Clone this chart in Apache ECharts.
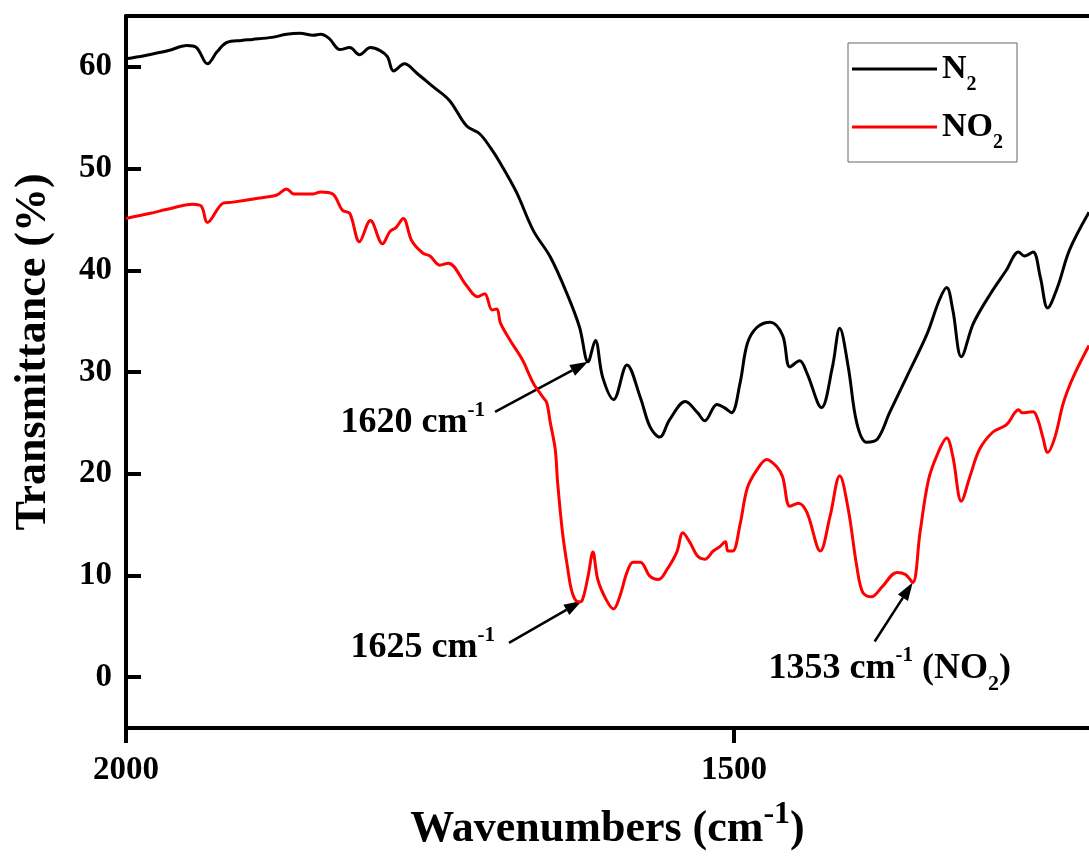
<!DOCTYPE html>
<html>
<head>
<meta charset="utf-8">
<script src="https://cdn.jsdelivr.net/npm/echarts@6/dist/echarts.min.js"></script>
<style>
  html, body { margin: 0; padding: 0; background: #ffffff; }
  #chart { width: 1089px; height: 859px; }
</style>
</head>
<body>
<div id="chart"></div>
<script>
// FTIR spectra, transmittance (%) against wavenumber (cm-1)
const wavenumbersN2 = [2000, 1985, 1965, 1950, 1942, 1933, 1925, 1917, 1905, 1896, 1880, 1868, 1857, 1846, 1840, 1833, 1824, 1816, 1808, 1799, 1791, 1785, 1780, 1771, 1761, 1748, 1734, 1720, 1709, 1700, 1692, 1679, 1665, 1651, 1637, 1627, 1620, 1614, 1608, 1599, 1588, 1577, 1569, 1561, 1553, 1540, 1530, 1524, 1514, 1508, 1502, 1495, 1489, 1481, 1470, 1460, 1454, 1446, 1440, 1428, 1419, 1413, 1406, 1399, 1391, 1382, 1372, 1358, 1341, 1331, 1325, 1320, 1313, 1303, 1289, 1276, 1266, 1261, 1254, 1248, 1242, 1234, 1224, 1208];
const transmittanceN2 = [60.8, 61.1, 61.6, 62.1, 61.9, 60.3, 61.5, 62.4, 62.6, 62.7, 62.9, 63.2, 63.3, 63.1, 63.2, 62.8, 61.7, 61.9, 61.2, 61.9, 61.6, 61.0, 59.6, 60.3, 59.4, 58.1, 56.7, 54.2, 53.4, 52.0, 50.5, 47.7, 43.9, 41.3, 37.6, 34.4, 31.0, 33.1, 29.5, 27.3, 30.7, 27.5, 24.6, 23.6, 25.3, 27.1, 26.0, 25.2, 26.8, 26.5, 26.0, 28.9, 32.8, 34.4, 34.9, 33.6, 30.5, 31.1, 29.9, 26.5, 30.5, 34.3, 30.5, 25.0, 23.1, 23.4, 26.0, 29.5, 33.8, 37.1, 38.3, 36.1, 31.5, 34.8, 37.7, 40.0, 41.8, 41.4, 41.8, 39.3, 36.3, 38.3, 42.0, 45.7];

const wavenumbersNO2 = [2000, 1980, 1966, 1945, 1938, 1933, 1920, 1912, 1890, 1876, 1868, 1862, 1846, 1840, 1830, 1822, 1816, 1808, 1799, 1789, 1783, 1778, 1772, 1765, 1756, 1750, 1742, 1735, 1720, 1711, 1705, 1699, 1695, 1692, 1684, 1674, 1665, 1657, 1654, 1651, 1647, 1645, 1641, 1637, 1633, 1628, 1625, 1620, 1616, 1612, 1605, 1599, 1594, 1588, 1583, 1577, 1569, 1562, 1555, 1547, 1542, 1536, 1530, 1524, 1517, 1512, 1507, 1505, 1501, 1495, 1489, 1481, 1473, 1465, 1460, 1454, 1447, 1440, 1429, 1421, 1413, 1406, 1399, 1394, 1387, 1378, 1366, 1359, 1353, 1347, 1340, 1332, 1325, 1320, 1313, 1306, 1298, 1287, 1276, 1269, 1266, 1263, 1254, 1250, 1246, 1242, 1236, 1229, 1221, 1208];
const transmittanceNO2 = [45.1, 45.6, 46.0, 46.5, 46.3, 44.7, 46.6, 46.7, 47.1, 47.4, 48.0, 47.5, 47.5, 47.7, 47.5, 45.9, 45.6, 42.8, 44.9, 42.6, 43.8, 44.2, 45.1, 42.9, 41.7, 41.4, 40.5, 40.7, 38.5, 37.4, 37.7, 36.1, 36.2, 34.8, 33.1, 31.2, 28.9, 27.5, 27.0, 25.0, 22.4, 19.1, 14.2, 10.9, 8.3, 7.4, 7.5, 9.9, 12.3, 9.6, 7.6, 6.7, 7.9, 10.3, 11.3, 11.3, 9.9, 9.6, 10.6, 12.3, 14.2, 13.2, 11.9, 11.6, 12.4, 12.8, 13.3, 12.4, 12.4, 15.0, 18.6, 20.4, 21.4, 20.7, 19.7, 16.8, 17.1, 16.2, 12.4, 15.8, 19.8, 16.5, 10.9, 8.3, 7.9, 8.9, 10.3, 10.1, 9.3, 14.2, 19.4, 22.1, 23.5, 21.7, 17.3, 19.7, 22.4, 24.1, 24.8, 26.0, 26.3, 26.0, 26.1, 25.3, 23.6, 22.1, 23.6, 27.0, 29.5, 32.6];

const seriesNames = ['N2', 'NO2'];
const seriesColors = ['#000000', '#ff0000'];
const yTickValues = [0, 10, 20, 30, 40, 50, 60];
const xTickValues = [2000, 1500];

// Marked bands: wavenumber, which spectrum, label text
const bandWavenumbers = [1620, 1625, 1353];
const bandSeries = [0, 1, 1];
const bandLabels = ['{n|1620 cm}{sup|-1}', '{n|1625 cm}{sup|-1}', '{n|1353 cm}{sup|-1}{n| (NO}{sub|2}{n|)}'];

const FONT = '"Liberation Serif", "Times New Roman", serif';

function pairs(xs, ys) {
  return xs.map((x, i) => [x, ys[i]]);
}
const seriesData = [pairs(wavenumbersN2, transmittanceN2), pairs(wavenumbersNO2, transmittanceNO2)];

const chart = echarts.init(document.getElementById('chart'), null, { renderer: 'canvas' });

const option = {
  animation: false,
  backgroundColor: '#ffffff',
  grid: { left: 126, right: 0, top: 16, bottom: 131, containLabel: false, outerBoundsMode: 'none' },
  legend: {
    data: seriesNames,
    orient: 'vertical',
    left: 848,
    top: 43,
    padding: [0, 14, 9, 4],
    itemGap: 6,
    itemWidth: 85,
    itemHeight: 3,
    icon: 'rect',
    borderColor: '#666666',
    borderWidth: 1,
    formatter: function (name) {
      return name === 'N2' ? '{m|N}{s|2}' : '{m|NO}{s|2}';
    },
    textStyle: {
      rich: {
        m: { fontFamily: FONT, fontWeight: 'bold', fontSize: 34, lineHeight: 40, color: '#000' },
        // subscript: top padding pushes the glyph down by half its size
        s: { fontFamily: FONT, fontWeight: 'bold', fontSize: 20, lineHeight: 10, padding: [32, 0, 0, 0], color: '#000' }
      }
    }
  },
  xAxis: [
    {
      type: 'value',
      inverse: true,
      min: 1208,
      max: 2000,
      position: 'bottom',
      name: '{t|Wavenumbers (cm}{sup|-1}{t|)}',
      nameLocation: 'middle',
      nameGap: 77,
      nameTextStyle: {
        rich: {
          t: { fontFamily: FONT, fontWeight: 'bold', fontSize: 44, lineHeight: 50, color: '#000' },
          sup: { fontFamily: FONT, fontWeight: 'bold', fontSize: 32, lineHeight: 10, padding: [0, 0, 30, 0], color: '#000' }
        }
      },
      axisLine: { show: true, onZero: false, lineStyle: { color: '#000', width: 4 } },
      axisTick: { show: true, inside: false, length: 15, customValues: xTickValues, lineStyle: { color: '#000', width: 4 } },
      axisLabel: {
        customValues: xTickValues,
        formatter: function (v) { return String(v); },
        fontFamily: FONT, fontWeight: 'bold', fontSize: 33, color: '#000', margin: 26
      },
      splitLine: { show: false }
    },
    {
      type: 'value',
      inverse: true,
      min: 1208,
      max: 2000,
      position: 'top',
      axisLine: { show: true, onZero: false, lineStyle: { color: '#000', width: 4 } },
      axisTick: { show: false },
      axisLabel: { show: false },
      splitLine: { show: false }
    }
  ],
  yAxis: {
    type: 'value',
    min: -5,
    max: 65,
    position: 'left',
    axisLine: { show: true, onZero: false, lineStyle: { color: '#000', width: 4 } },
    axisTick: { show: true, inside: true, length: 15, customValues: yTickValues, lineStyle: { color: '#000', width: 4 } },
    axisLabel: {
      customValues: yTickValues,
      formatter: function (v) { return String(v); },
      fontFamily: FONT, fontWeight: 'bold', fontSize: 33, color: '#000', margin: 14
    },
    splitLine: { show: false }
  },
  series: seriesNames.map((name, i) => ({
    name: name,
    type: 'line',
    xAxisIndex: 0,
    yAxisIndex: 0,
    data: seriesData[i],
    showSymbol: false,
    smooth: 0.35,
    color: seriesColors[i],
    lineStyle: { color: seriesColors[i], width: 3 }
  }))
};

chart.setOption(option);

// Transmittance of a spectrum at a given wavenumber (linear between stored points)
function transmittanceAt(seriesIndex, w) {
  const d = seriesData[seriesIndex];
  for (let i = 0; i < d.length - 1; i++) {
    const a = d[i], b = d[i + 1];
    if ((a[0] >= w && b[0] <= w) || (a[0] <= w && b[0] >= w)) {
      const t = (w - a[0]) / (b[0] - a[0]);
      return a[1] + t * (b[1] - a[1]);
    }
  }
  return d[d.length - 1][1];
}

// Arrow shaft plus filled head ending at tip
function arrow(tip, dx, dy) {
  const tail = [tip[0] + dx, tip[1] + dy];
  const len = Math.hypot(dx, dy);
  const ux = -dx / len, uy = -dy / len;
  const headLen = 18, headHalf = 6;
  const base = [tip[0] - ux * headLen, tip[1] - uy * headLen];
  const px = -uy, py = ux;
  return [
    { type: 'line', silent: true, shape: { x1: tail[0], y1: tail[1], x2: base[0], y2: base[1] }, style: { stroke: '#000', lineWidth: 2.5 } },
    { type: 'polygon', silent: true, shape: { points: [tip, [base[0] + px * headHalf, base[1] + py * headHalf], [base[0] - px * headHalf, base[1] - py * headHalf]] }, style: { fill: '#000' } }
  ];
}

const labelRich = {
  n: { fontFamily: FONT, fontWeight: 'bold', fontSize: 36, lineHeight: 40, fill: '#000' },
  // superscript: bottom padding lifts it; subscript: top padding drops it
  sup: { fontFamily: FONT, fontWeight: 'bold', fontSize: 21, lineHeight: 10, padding: [0, 0, 25, 0], fill: '#000' },
  sub: { fontFamily: FONT, fontWeight: 'bold', fontSize: 22, lineHeight: 10, padding: [32, 0, 0, 0], fill: '#000' }
};

// Arrow offsets (tail from tip) and label anchors relative to the tip, in pixels
const arrowOffsets = [[-93, 50], [-73, 42], [-38, 59]];
const labelAnchors = [
  { dx: -103, dy: 61, align: 'right' },
  { dx: -87, dy: 47, align: 'right' },
  { dx: -23, dy: 86, align: 'center' }
];

const graphics = [];
bandWavenumbers.forEach((w, i) => {
  const v = transmittanceAt(bandSeries[i], w);
  const tip = chart.convertToPixel({ xAxisIndex: 0, yAxisIndex: 0 }, [w, v]);
  arrow(tip, arrowOffsets[i][0], arrowOffsets[i][1]).forEach(g => graphics.push(g));
  graphics.push({
    type: 'text',
    silent: true,
    x: tip[0] + labelAnchors[i].dx,
    y: tip[1] + labelAnchors[i].dy,
    style: {
      text: bandLabels[i],
      rich: labelRich,
      fill: '#000',
      fontFamily: FONT,
      fontWeight: 'bold',
      fontSize: 36,
      align: labelAnchors[i].align,
      verticalAlign: 'middle'
    }
  });
});

// Vertical axis title
graphics.push({
  type: 'text',
  silent: true,
  x: 34,
  y: 352,
  rotation: Math.PI / 2,
  style: {
    text: 'Transmittance (%)',
    fill: '#000',
    fontFamily: FONT,
    fontWeight: 'bold',
    fontSize: 44,
    align: 'center',
    verticalAlign: 'middle'
  }
});

chart.setOption({ graphic: graphics });
</script>
</body>
</html>
